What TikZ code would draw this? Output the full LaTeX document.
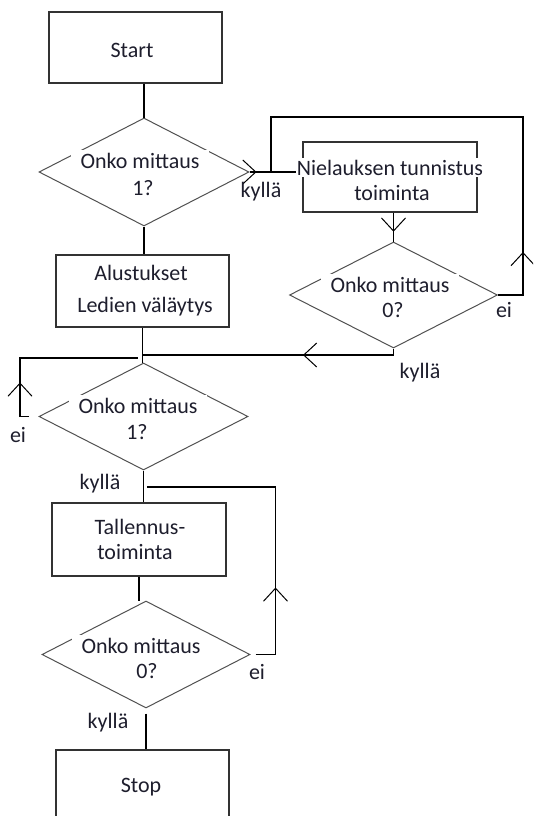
\documentclass[tikz,border=0pt]{standalone}
\usepackage{fontspec}
\setmainfont{Carlito}
\usetikzlibrary{shapes.geometric,arrows.meta,decorations.markings}
\definecolor{txtc}{RGB}{30,30,45}
\definecolor{edgec}{RGB}{50,50,50}
\begin{document}
\begin{tikzpicture}[x=1pt,y=-1pt,
  boxs/.style={draw=edgec, line width=1.4pt, rectangle, inner sep=0pt},
  dias/.style={draw=edgec!85, line width=1pt, diamond, inner sep=0pt},
  conn/.style={draw=black, line width=1.3pt},
  txt/.style={font=\fontsize{22}{25}\selectfont, text=txtc, inner sep=0pt, anchor=base},
  wt/.style={fill=white, inner xsep=10pt, inner ysep=3pt},
  arrowat/.style={postaction={decorate}, decoration={markings,
     mark=at position #1 with {\arrow{Straight Barb[length=13pt,width=24pt,line width=1pt]}}}}
]
\useasboundingbox (0,0) rectangle (533,816);
\fill[white] (0,0) rectangle (533,816);
\clip (0,0) rectangle (533,816);

% shapes
\node[boxs, minimum width=173pt, minimum height=71pt] (start) at (135.5,47.5) {};
\node[dias, minimum width=210pt, minimum height=108pt] (d1) at (144,172) {};
\node[boxs, minimum width=173pt, minimum height=72pt] (alus) at (142.5,291) {};
\node[boxs, minimum width=174pt, minimum height=70pt] (niel) at (390,177) {};
\node[dias, minimum width=208pt, minimum height=106pt] (d2) at (393.5,295) {};
\node[dias, minimum width=209pt, minimum height=107pt] (d3) at (143.5,416.5) {};
\node[boxs, minimum width=174pt, minimum height=73pt] (tall) at (139,539.5) {};
\node[dias, minimum width=208pt, minimum height=107pt] (d4) at (146,654.5) {};
\node[boxs, minimum width=173pt, minimum height=74pt] (stop) at (142.5,787) {};

% junction coordinates
\coordinate (jn1) at (271,172);
\coordinate (jn2) at (143,355);
\coordinate (jn3) at (138,358);
\coordinate (d3e) at (29,416.5);
\coordinate (jn4) at (147,487);

% connectors
\draw[conn] (d1.north |- start.south) -- (d1.north);
\draw[conn] (d1.south) -- (d1.south |- alus.north);
\draw[conn, arrowat=7pt] (d1.east) -- (d1.east -| niel.west);
\draw[conn, arrowat=68pt] (d2.east) -- ++(25,0) -- ++(0,-178) -| (jn1);
\draw[conn, arrowat=19pt] (niel.south -| d2.north) -- (d2.north);
\draw[conn, arrowat=97pt] (d2.south) |- (jn2);
\draw[conn] (alus.south) -- (alus.south |- d3.north);
\draw[conn, arrowat=43pt] (d3e) -- (20,416.5) |- (jn3);
\draw[conn] (d3.south) -- (d3.south |- tall.north);
\draw[conn, arrowat=87pt] ([xshift=5pt]d4.east) -- ++(20,0) |- (jn4);
\draw[conn] (tall.south) -- (tall.south |- d4.north);
\draw[conn, shorten <=5pt] (d4.south) -- (d4.south |- stop.north);

% texts
\node[txt] (tstart) at (132,57) {Start};
\node[txt,wt] (t1a) at (140,168) {Onko mittaus};
\node[txt,wt] (t1b) at (143,195) {1?};
\node[txt, fill=white, inner xsep=1pt, inner ysep=1.5pt] (t2a) at (390,175) {Nielauksen tunnistus};
\node[txt] (t2b) at (392,200) {toiminta};
\node[txt,wt] (t3a) at (390,292) {Onko mittaus};
\node[txt,wt] (t3b) at (393,317) {0?};
\node[txt] (t4a) at (141,280) {Alustukset};
\node[txt] (t4b) at (145,312) {Ledien väläytys};
\node[txt,wt] (t5a) at (138,413) {Onko mittaus};
\node[txt,wt] (t5b) at (137,439) {1?};
\node[txt] (t6a) at (140,534) {Tallennus-};
\node[txt] (t6b) at (135,559) {toiminta};
\node[txt,wt] (t7a) at (141,653) {Onko mittaus};
\node[txt,wt] (t7b) at (147,678) {0?};
\node[txt] (tstop) at (141,792) {Stop};

% labels
\node[txt] (k1) at (261,197) {kyllä};
\node[txt] (e2) at (504,317) {ei};
\node[txt] (k2) at (420,378) {kyllä};
\node[txt] (e3) at (18,442) {ei};
\node[txt] (k3) at (100,489) {kyllä};
\node[txt] (e4) at (257,679) {ei};
\node[txt] (k4) at (108,728) {kyllä};
\end{tikzpicture}
\end{document}
